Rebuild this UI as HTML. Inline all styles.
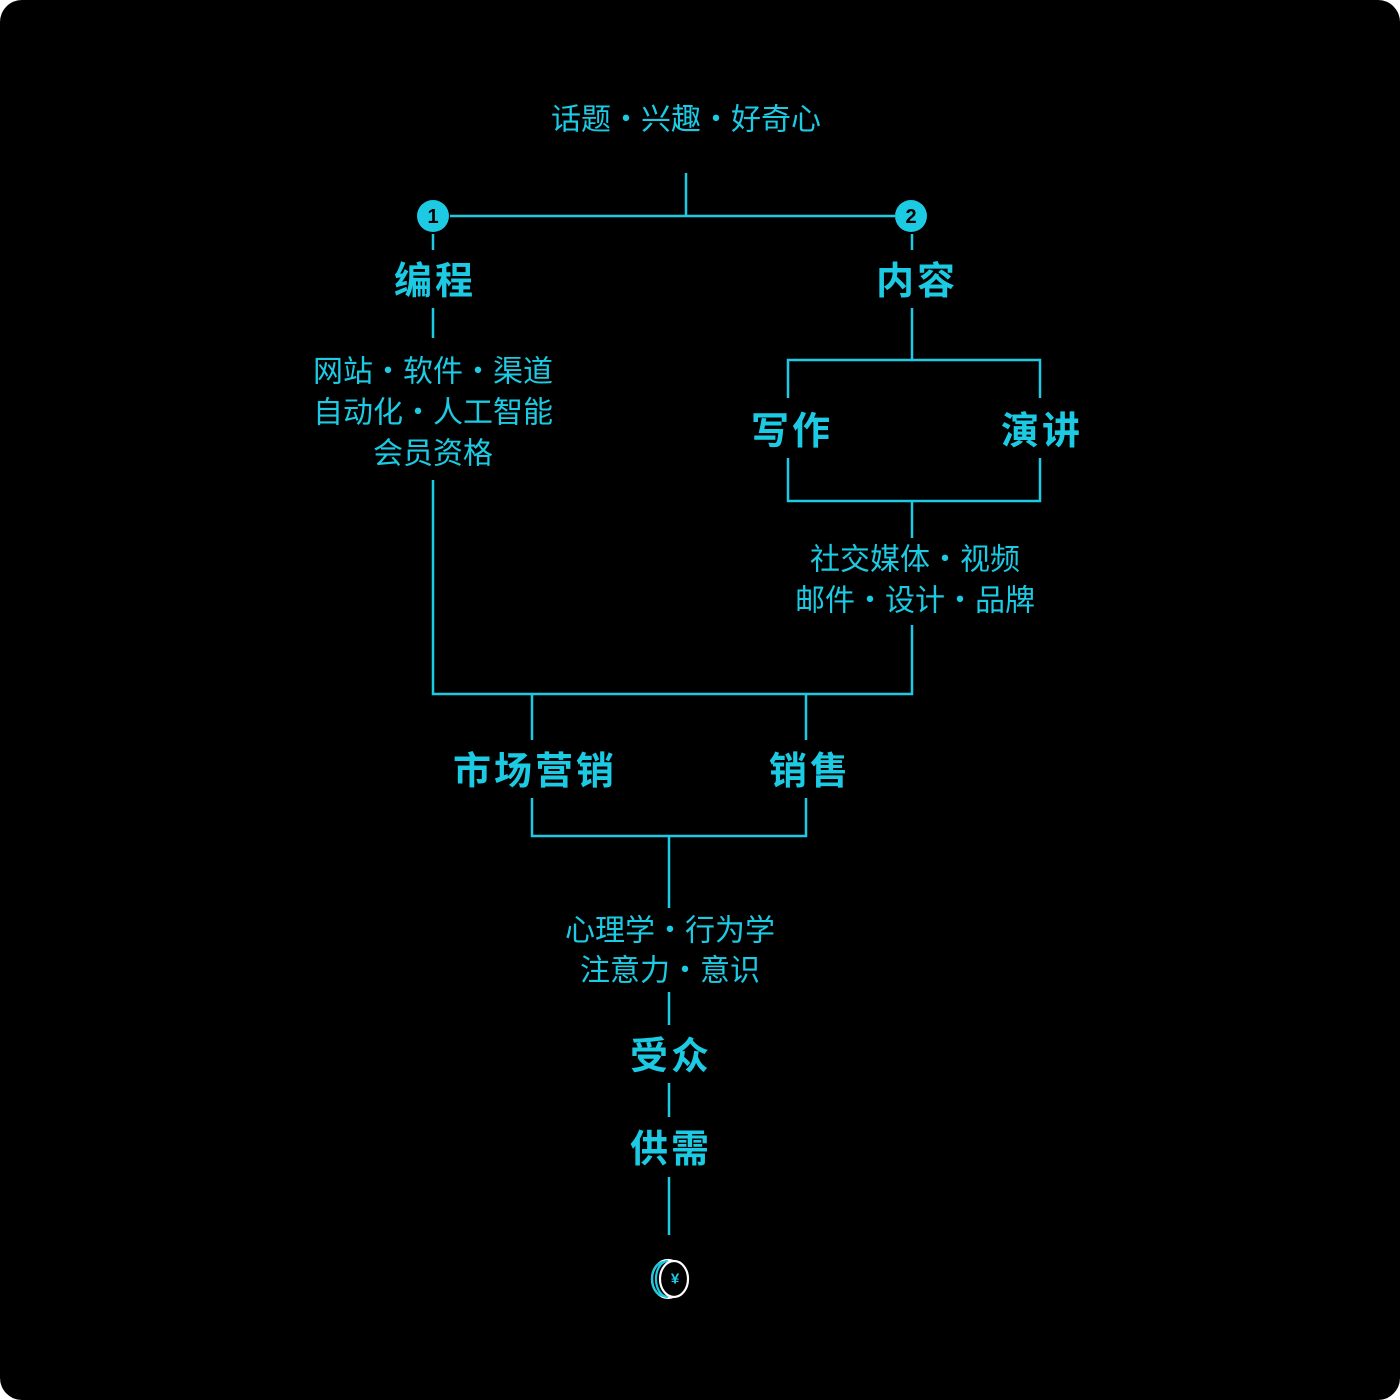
<!DOCTYPE html>
<html><head><meta charset="utf-8"><style>
html,body{margin:0;padding:0;background:#fff;}
.wrap{width:1400px;height:1400px;background:#000;border-radius:22px;overflow:hidden;}
svg text{font-family:"Liberation Sans","Noto Sans CJK SC",sans-serif;fill:#1ccbe3;text-anchor:middle;dominant-baseline:central;}
.s{font-size:30px;}
.b{font-size:38px;font-weight:bold;letter-spacing:3px;}
</style></head><body><div class="wrap">
<svg width="1400" height="1400" viewBox="0 0 1400 1400">
<g stroke="#1ccbe3" stroke-width="2.5" fill="none">
<path d="M686 173V216M450 216H895"/>
<path d="M433 234V250M912 234V250"/>
<path d="M433 308V338M433 480V694H912V625"/>
<path d="M912 308V360M788 398V360H1040V398M788 458V501H1040V458M912 501V538"/>
<path d="M532 694V740M806 694V740M532 798V836H806V798M669 836V908"/>
<path d="M669 992V1025M669 1083V1117M669 1177V1235"/>
</g>
<circle cx="433" cy="216" r="16" fill="#1ccbe3"/>
<circle cx="911" cy="216" r="16" fill="#1ccbe3"/>
<text x="433" y="217" style="font-size:20px;font-weight:bold;fill:#000">1</text>
<text x="911" y="217" style="font-size:20px;font-weight:bold;fill:#000">2</text>
<text class="s" x="686" y="120">话题・兴趣・好奇心</text>
<text class="b" x="435" y="282">编程</text>
<text class="b" x="917" y="282">内容</text>
<text class="s" x="433" y="372">网站・软件・渠道</text>
<text class="s" x="433" y="413">自动化・人工智能</text>
<text class="s" x="433" y="454">会员资格</text>
<text class="b" x="792" y="432">写作</text>
<text class="b" x="1042" y="432">演讲</text>
<text class="s" x="915" y="560">社交媒体・视频</text>
<text class="s" x="915" y="601">邮件・设计・品牌</text>
<text class="b" x="535" y="772">市场营销</text>
<text class="b" x="810" y="772">销售</text>
<text class="s" x="670" y="931">心理学・行为学</text>
<text class="s" x="670" y="971">注意力・意识</text>
<text class="b" x="671" y="1057">受众</text>
<text class="b" x="671" y="1150">供需</text>
<g fill="none" stroke-width="2.2">
<ellipse cx="668" cy="1279" rx="16" ry="19" stroke="#fff"/>
<path d="M664 1262 A12 17 0 0 0 664 1296" stroke="#1ccbe3"/>
<path d="M668 1261 A12 18 0 0 0 668 1297" stroke="#1ccbe3"/>
<ellipse cx="674" cy="1279" rx="14" ry="18" stroke="#fff" fill="#000"/>
</g>
<text x="675" y="1279" style="font-size:15px;font-weight:bold">¥</text>
</svg>
</div></body></html>
